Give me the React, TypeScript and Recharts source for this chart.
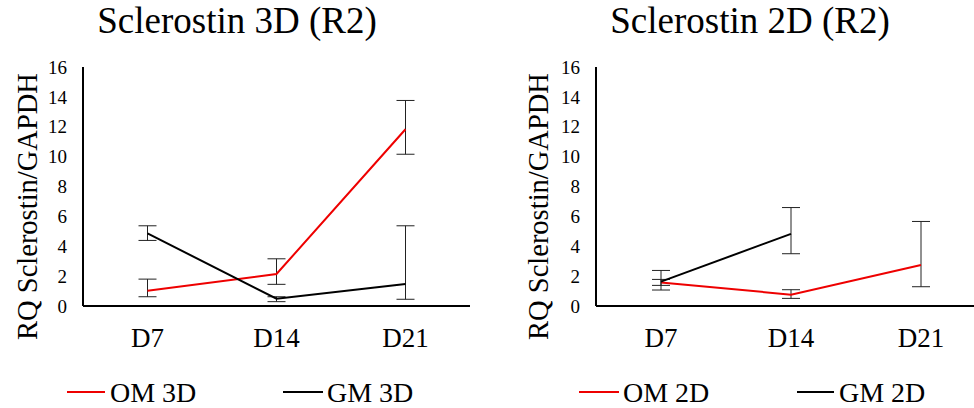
import React from 'react';
import { LineChart, Line, XAxis, YAxis, ErrorBar } from 'recharts';

const categories = ['D7', 'D14', 'D21'];
const yTicks = [0, 2, 4, 6, 8, 10, 12, 14, 16];

// 3D
const om3d = [1.02, 2.14, 11.83];
const om3dErr: [number, number][] = [[0.4, 0.78], [0.69, 1.02], [1.67, 1.93]];
const gm3d = [4.86, 0.49, 1.47];
const gm3dErr: [number, number][] = [[0.47, 0.51], [0.2, 0.13], [1.02, 3.9]];

// 2D
const om2d = [1.58, 0.76, 2.74];
const om2dErr: [number, number][] = [[0.2, 0.2], [0.25, 0.33], [1.45, 2.92]];
const gm2d: (number | null)[] = [1.63, 4.83, null];
const gm2dErr: ([number, number] | null)[] = [[0.56, 0.75], [1.33, 1.76], null];

const FONT = "'Liberation Serif', 'DejaVu Serif', 'Times New Roman', serif";
const RED = '#ee0000';

const build = (om: number[], omE: any[], gm: (number | null)[], gmE: any[]) =>
  categories.map((c, i) => ({ cat: c, om: om[i], omE: omE[i], gm: gm[i], gmE: gmE[i] }));

const data3d = build(om3d, om3dErr, gm3d, gm3dErr);
const data2d = build(om2d, om2dErr, gm2d, gm2dErr);

const YLabel = (baseX: number) => (props: any) => {
  const vb = props.viewBox || {};
  const cy = (vb.y ?? 67) + (vb.height ?? 239) / 2 + 20;
  return (
    <text
      x={baseX}
      y={cy}
      textAnchor="middle"
      transform={`rotate(-90, ${baseX}, ${cy})`}
      style={{ fontFamily: FONT }}
      fontSize={28.5}
      fill="#000"
    >
      RQ Sclerostin/GAPDH
    </text>
  );
};

function Panel({ data, left, width, yAxisWidth, right, labelX, pad }: any) {
  return (
    <div style={{ position: 'absolute', left, top: 0 }}>
      <LineChart width={width} height={408} data={data} margin={{ top: 67, right, bottom: 42, left: 0 }} style={{ fontFamily: FONT }}>
        <XAxis
          dataKey="cat"
          height={60}
          padding={{ left: pad, right: pad }}
          axisLine={{ stroke: '#000', strokeWidth: 2 }}
          tickLine={false}
          tickSize={6}
          tickMargin={16}
          tick={{ fill: '#000', fontSize: 27, style: { fontFamily: FONT } }}
          interval={0}
        />
        <YAxis
          width={yAxisWidth}
          domain={[0, 16]}
          ticks={yTicks}
          interval={0}
          axisLine={{ stroke: '#000', strokeWidth: 2 }}
          tickLine={false}
          tickSize={6}
          tickMargin={10}
          tick={{ fill: '#000', fontSize: 19, style: { fontFamily: FONT } }}
          label={{ content: YLabel(labelX) } as any}
        />
        <Line dataKey="om" stroke={RED} strokeWidth={2} dot={false} isAnimationActive={false} connectNulls={false}>
          <ErrorBar dataKey="omE" width={9} stroke="#222" strokeWidth={1} direction="y" />
        </Line>
        <Line dataKey="gm" stroke="#000" strokeWidth={2} dot={false} isAnimationActive={false} connectNulls={false}>
          <ErrorBar dataKey="gmE" width={9} stroke="#222" strokeWidth={1} direction="y" />
        </Line>
      </LineChart>
    </div>
  );
}

export default function App() {
  return (
    <div style={{ position: 'absolute', left: 0, top: 0, width: 974, height: 408, overflow: 'hidden', background: '#fff', fontFamily: FONT }}>
      <Panel data={data3d} left={0} width={487} yAxisWidth={83} right={17} labelX={37} pad={64.5} />
      <Panel data={data2d} left={487} width={520} yAxisWidth={109} right={21} labelX={61} pad={65} />
      <svg width={974} height={408} style={{ position: 'absolute', left: 0, top: 0, pointerEvents: 'none', fontFamily: FONT }}>
        <g fill="#000">
          <text x={237} y={33} fontSize={37} textAnchor="middle">Sclerostin 3D (R2)</text>
          <text x={750} y={33} fontSize={37} textAnchor="middle">Sclerostin 2D (R2)</text>
          <g fontSize={28}>
            <line x1={67} x2={105} y1={392} y2={392} stroke={RED} strokeWidth={2} />
            <text x={110} y={402}>OM 3D</text>
            <line x1={283} x2={323} y1={392} y2={392} stroke="#000" strokeWidth={2} />
            <text x={327} y={402}>GM 3D</text>
            <line x1={579} x2={619} y1={392} y2={392} stroke={RED} strokeWidth={2} />
            <text x={623} y={402}>OM 2D</text>
            <line x1={797} x2={834} y1={392} y2={392} stroke="#000" strokeWidth={2} />
            <text x={839} y={402}>GM 2D</text>
          </g>
        </g>
      </svg>
    </div>
  );
}
